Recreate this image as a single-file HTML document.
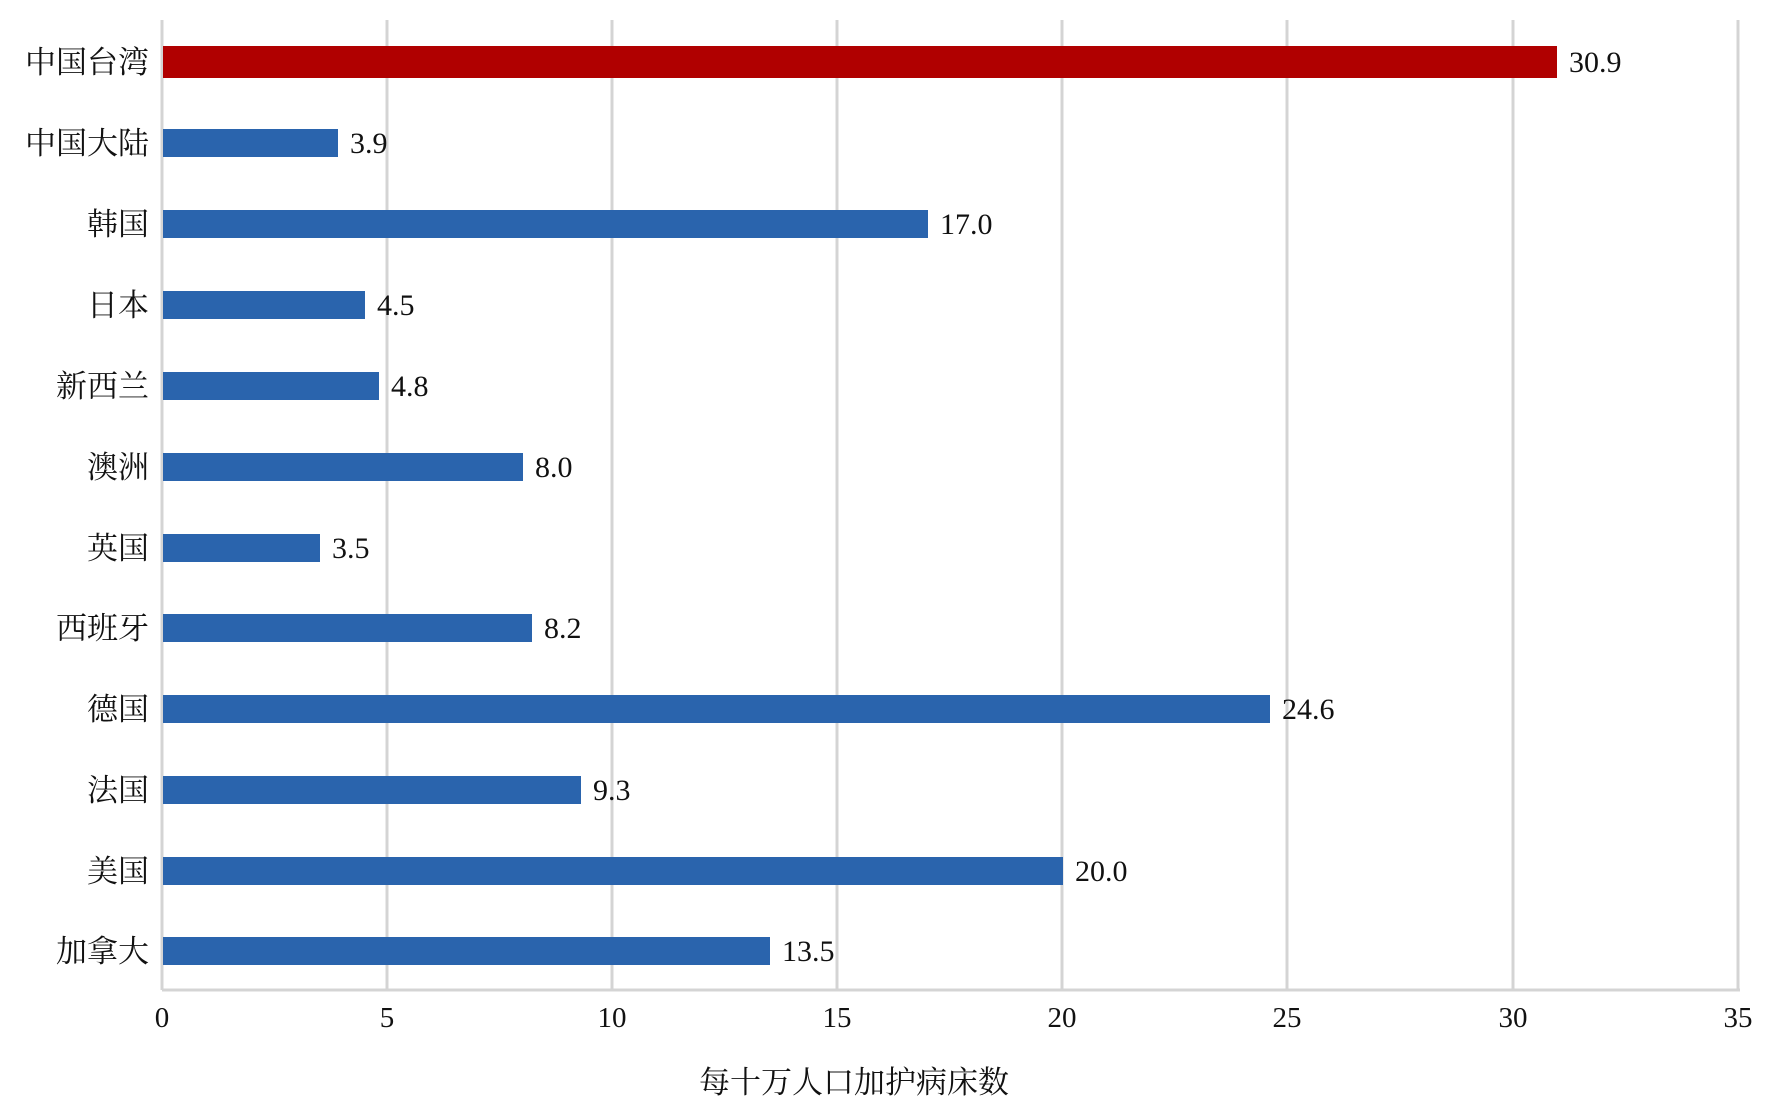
<!DOCTYPE html>
<html><head><meta charset="utf-8"><style>
body{margin:0;background:#fff;}
svg text{font-family:"Liberation Serif","Noto Serif CJK SC",serif;fill:#111;}
</style></head><body>
<svg width="1771" height="1108" xmlns="http://www.w3.org/2000/svg">
<g stroke="#d4d4d4" stroke-width="3">
<line x1="162" y1="20" x2="162" y2="990"/>
<line x1="387" y1="20" x2="387" y2="990"/>
<line x1="612" y1="20" x2="612" y2="990"/>
<line x1="837" y1="20" x2="837" y2="990"/>
<line x1="1062" y1="20" x2="1062" y2="990"/>
<line x1="1287" y1="20" x2="1287" y2="990"/>
<line x1="1513" y1="20" x2="1513" y2="990"/>
<line x1="1738" y1="20" x2="1738" y2="990"/>
<line x1="162" y1="990" x2="1740" y2="990"/>
</g>
<g font-size="29" text-anchor="middle">
<text x="162" y="1027">0</text><text x="387" y="1027">5</text><text x="612" y="1027">10</text><text x="837" y="1027">15</text><text x="1062" y="1027">20</text><text x="1287" y="1027">25</text><text x="1513" y="1027">30</text><text x="1738" y="1027">35</text>
</g>
<text x="854" y="1093" font-size="31" text-anchor="middle">每十万人口加护病床数</text>
<rect x="163" y="46" width="1394" height="32" fill="#b00000"/>
<g fill="#2a64ad">
<rect x="163" y="129" width="175" height="28"/>
<rect x="163" y="210" width="765" height="28"/>
<rect x="163" y="291" width="202" height="28"/>
<rect x="163" y="372" width="216" height="28"/>
<rect x="163" y="453" width="360" height="28"/>
<rect x="163" y="534" width="157" height="28"/>
<rect x="163" y="614" width="369" height="28"/>
<rect x="163" y="695" width="1107" height="28"/>
<rect x="163" y="776" width="418" height="28"/>
<rect x="163" y="857" width="900" height="28"/>
<rect x="163" y="937" width="607" height="28"/>
</g>
<g font-size="30">
<text x="1569" y="72">30.9</text>
<text x="350" y="153">3.9</text>
<text x="940" y="234">17.0</text>
<text x="377" y="315">4.5</text>
<text x="391" y="396">4.8</text>
<text x="535" y="477">8.0</text>
<text x="332" y="558">3.5</text>
<text x="544" y="638">8.2</text>
<text x="1282" y="719">24.6</text>
<text x="593" y="800">9.3</text>
<text x="1075" y="881">20.0</text>
<text x="782" y="961">13.5</text>
</g>
<g font-size="31" text-anchor="end">
<text x="149" y="73">中国台湾</text>
<text x="149" y="154">中国大陆</text>
<text x="149" y="235">韩国</text>
<text x="149" y="316">日本</text>
<text x="149" y="397">新西兰</text>
<text x="149" y="478">澳洲</text>
<text x="149" y="559">英国</text>
<text x="149" y="639">西班牙</text>
<text x="149" y="720">德国</text>
<text x="149" y="801">法国</text>
<text x="149" y="882">美国</text>
<text x="149" y="962">加拿大</text>
</g>
</svg>
</body></html>
